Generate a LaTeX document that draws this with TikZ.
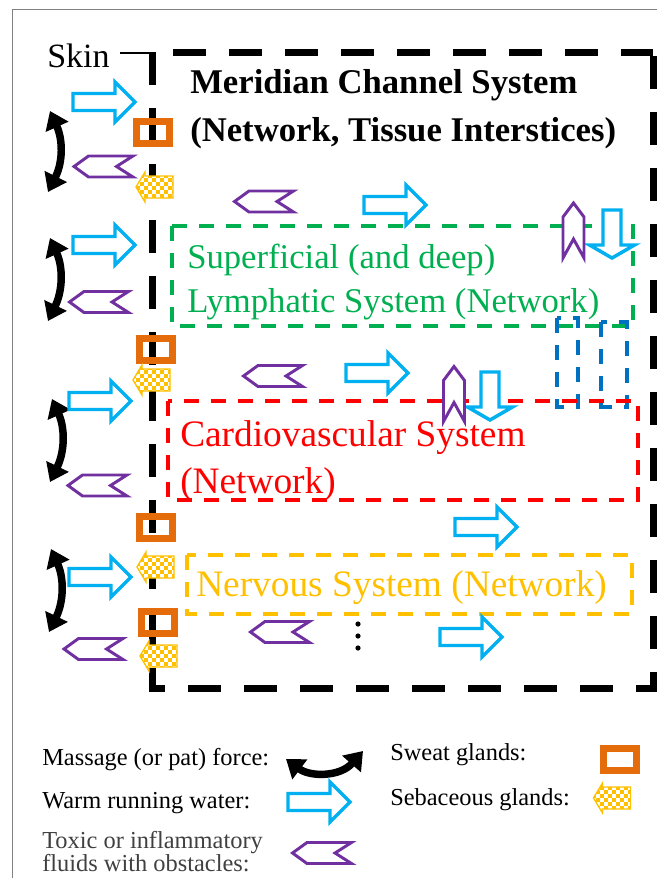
\documentclass[tikz,border=0pt]{standalone}
\usepackage{fontspec}
\setmainfont{Liberation Serif}
\usetikzlibrary{arrows.meta,patterns.meta}
\definecolor{cyanw}{HTML}{00B0F0}
\definecolor{purp}{HTML}{7030A0}
\definecolor{orng}{HTML}{E46C0A}
\definecolor{ylw}{HTML}{FFC000}
\definecolor{grn}{HTML}{00B050}
\definecolor{rd}{HTML}{FF0000}
\definecolor{blu}{HTML}{0070C0}
\definecolor{frame}{HTML}{808080}
\definecolor{dgray}{HTML}{404040}
\tikzdeclarepattern{
  name=chk,
  type=uncolored,
  bottom left={(-0.1pt,-0.1pt)},
  top right={(6.1pt,6.1pt)},
  tile size={(6pt,6pt)},
  code={
    \fill (0pt,0pt) rectangle (3pt,3pt);
    \fill (3pt,3pt) rectangle (6pt,6pt);
  }
}
\begin{document}
\begin{tikzpicture}[x=0.75pt,y=-0.75pt,
  warmst/.style={draw=cyanw, line width=2.6pt, fill=white, line join=miter},
  toxst/.style={draw=purp, line width=2.2pt, fill=white, line join=miter},
  sweatst/.style={draw=orng, line width=5.25pt},
  sebst/.style={preaction={fill=white}, pattern=chk, pattern color=ylw, draw=ylw, line width=1pt},
  massst/.style={line width=5.6pt, {Triangle[width=18pt,length=13pt]}-{Triangle[width=18pt,length=13pt]}},
  bigdash/.style={line width=5.25pt, dash pattern=on 24.75pt off 17.25pt},
  smalldash/.style={line width=3pt, dash pattern=on 11.25pt off 9pt},
  txt/.style={anchor=base west, inner sep=0pt},
  maintxt/.style={txt, font=\fontsize{26}{30}\selectfont},
  bigtxt/.style={txt, font=\fontsize{28}{32}\selectfont},
  legtxt/.style={txt, font=\fontsize{18.3}{22}\selectfont},
  warmR/.pic={\path[warmst] (-31,-8.5) -- (11,-8.5) -- (11,-20) -- (31,0) -- (11,20) -- (11,8.5) -- (-31,8.5) -- cycle;},
  warmD/.pic={\path[warmst] (-9,-24) -- (9,-24) -- (9,11) -- (22.5,11) -- (0,24) -- (-22.5,11) -- (-9,11) -- cycle;},
  toxL/.pic={\path[toxst] (-29.5,0) -- (-15,-10.5) -- (29.5,-10.5) -- (13,0) -- (29.5,10.5) -- (-15,10.5) -- cycle;},
  toxU/.pic={\path[toxst] (0,-27.5) -- (10.5,-13.5) -- (10.5,27.5) -- (0,8.5) -- (-10.5,27.5) -- (-10.5,-13.5) -- cycle;},
  sweat/.pic={\path[sweatst] (-16.5,-11) rectangle (16.5,11);},
  sebac/.pic={\path[sebst] (-18.5,0) -- (-9.5,-15) -- (-9.5,-11) -- (18.5,-11) -- (18.5,11) -- (-9.5,11) -- (-9.5,15) -- cycle;}
]
\useasboundingbox (0,0) rectangle (657,878);
% outer frame
\draw[frame, line width=0.75pt] (12,878) -- (12,9.5) -- (657,9.5);

% meridian channel system (big dashed box / skin)
\draw[bigdash, line join=miter] (152,52) -- (152,688) -- (653,688) -- (653,52);
\draw[bigdash, dash phase=26.25pt] (152,52) -- (653,52);
\node[font=\fontsize{25.5}{30}\selectfont, anchor=base west, inner sep=0pt] (skin) at (47,67) {Skin};
\coordinate (skinc) at (152,53);
\draw[line width=1.1pt] (120,53) -- (skinc);

% titles
\node[txt, font=\fontsize{26}{30}\selectfont\bfseries] (title1) at (190,93) {Meridian Channel System};
\node[txt, font=\fontsize{26}{30}\selectfont\bfseries] (title2) at (190,141) {(Network, Tissue Interstices)};

% lymphatic
\draw[smalldash, grn] (172,226) rectangle (633,326);
\node[maintxt, text=grn] (lym1) at (187,268) {Superficial (and deep)};
\node[maintxt, text=grn] (lym2) at (187,312) {Lymphatic System (Network)};
% blue small boxes
\draw[smalldash, blu] (557,318) rectangle (578,407);
\draw[smalldash, blu] (601,322) rectangle (627,407);

% cardiovascular
\draw[smalldash, rd] (168,401) rectangle (638,500);
\node[bigtxt, text=rd] (cv1) at (180,446) {Cardiovascular System};
\node[bigtxt, text=rd] (cv2) at (180,493) {(Network)};

% nervous
\draw[smalldash, ylw] (187,555) rectangle (632,614);
\node[bigtxt, text=ylw] (nv) at (196,596) {Nervous System (Network)};

% massage arrows
\draw[massst] (50,111) .. controls (63,140) and (63,162) .. (48,192);
\draw[massst] (50,238) .. controls (63,267) and (63,290) .. (48,321);
\draw[massst] (52,399) .. controls (65,428) and (65,451) .. (50,482);
\draw[massst] (51,549) .. controls (64,578) and (64,601) .. (49,632);

% warm water arrows
\pic at (104,102) {warmR};
\pic at (104,245) {warmR};
\pic at (100,401) {warmR};
\pic at (100,577) {warmR};
\pic at (395,205) {warmR};
\pic at (377,373) {warmR};
\pic at (486,527) {warmR};
\pic at (471,637) {warmR};
\pic at (612,234) {warmD};
\pic at (490,396) {warmD};

% toxic fluids
\pic at (103.5,166.5) {toxL};
\pic at (99,302) {toxL};
\pic at (97.5,485.5) {toxL};
\pic at (93.5,649) {toxL};
\pic at (264,201.5) {toxL};
\pic at (273,376) {toxL};
\pic at (280,632) {toxL};
\pic at (573.5,230.5) {toxU};
\pic at (454,394) {toxU};

% sweat glands
\pic at (153,132) {sweat};
\pic at (156,349) {sweat};
\pic at (156,527) {sweat};
\pic at (158,622) {sweat};

% sebaceous glands
\pic at (154.5,187) {sebac};
\pic at (151.5,380) {sebac};
\pic at (155.5,567) {sebac};
\pic at (158.5,656) {sebac};

% dots
\fill (358,624) circle (2.6);
\fill (358,636) circle (2.6);
\fill (358,648) circle (2.6);

% legend
\node[legtxt] (lmass) at (42,765) {Massage (or pat) force:};
\draw[massst] (286,759) .. controls (310,777) and (340,777) .. (363,751);
\node[legtxt] (lwarm) at (42,808) {Warm running water:};
\pic at (319,802) {warmR};
\node[legtxt, text=dgray] (ltox1) at (42,848) {Toxic or inflammatory};
\node[legtxt, text=dgray] (ltox2) at (42,871) {fluids with obstacles:};
\pic at (322,853) {toxL};
\node[legtxt] (lsweat) at (390,760) {Sweat glands:};
\pic at (620,759) {sweat};
\node[legtxt] (lseb) at (390,805) {Sebaceous glands:};
\pic at (612,798) {sebac};
\end{tikzpicture}
\end{document}
